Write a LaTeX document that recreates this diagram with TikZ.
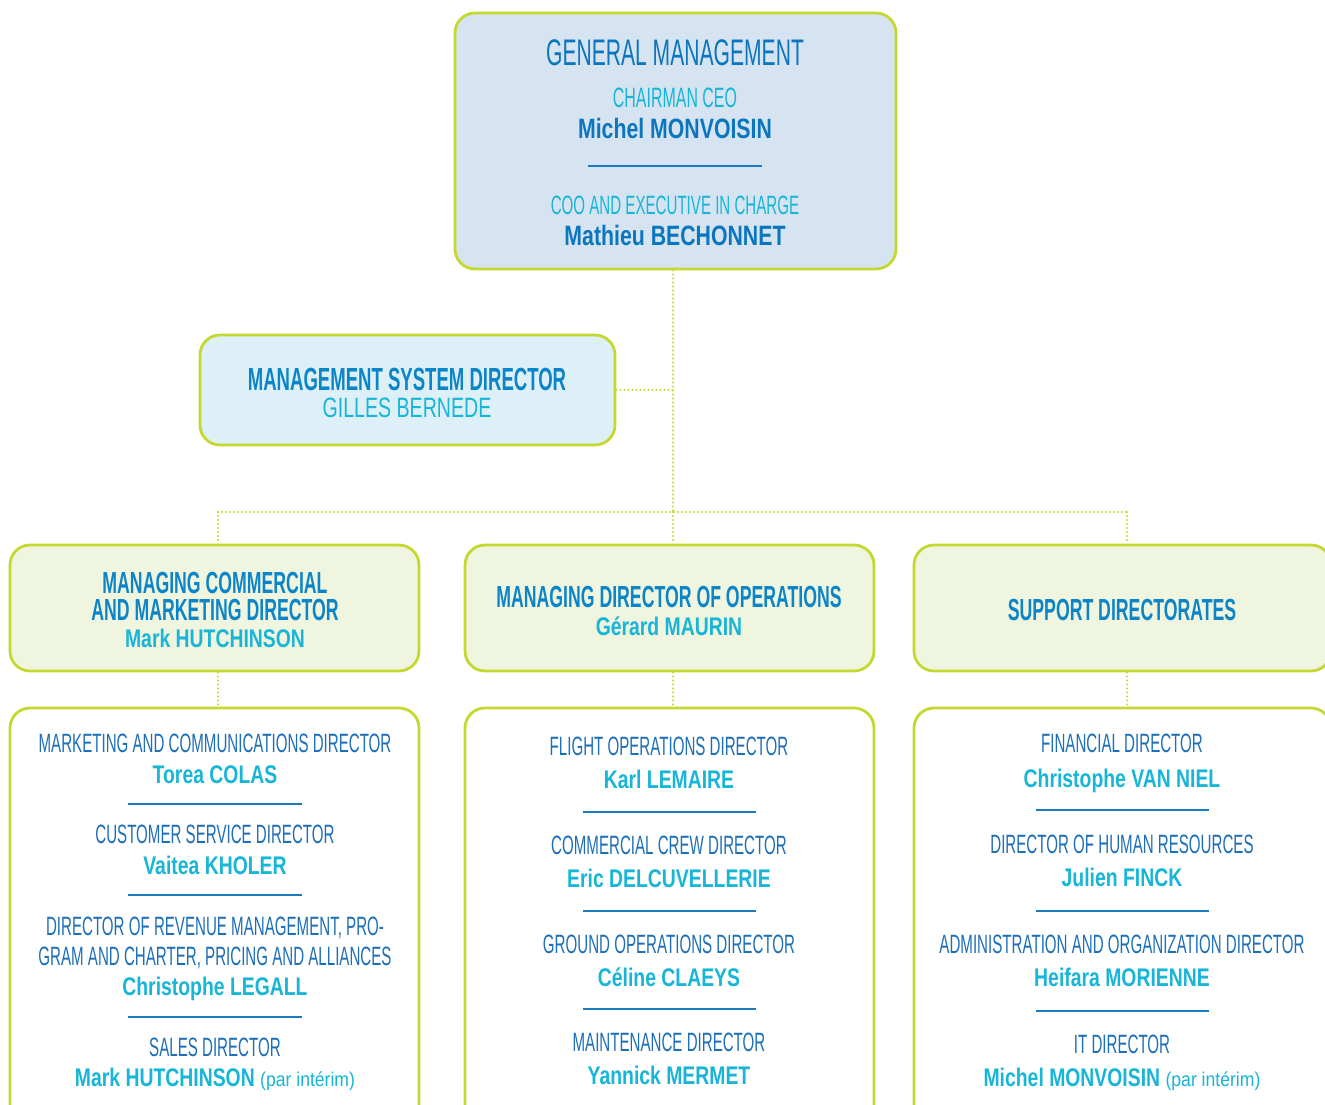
\documentclass[tikz,border=0pt]{standalone}
\usepackage{fontspec}
\setmainfont{Liberation Sans}
\newfontfamily\ttl[FakeStretch=0.57]{Liberation Sans}
\newfontfamily\hdr[FakeStretch=0.58]{Liberation Sans}
\newfontfamily\nmf[FakeStretch=0.76]{Liberation Sans}
\newfontfamily\nmr[FakeStretch=0.70]{Liberation Sans}
\newfontfamily\parf[FakeStretch=0.88]{Liberation Sans}
\definecolor{limec}{HTML}{C4D82F}
\definecolor{gmfill}{HTML}{D6E4F2}
\definecolor{msdfill}{HTML}{DDF0F7}
\definecolor{rowfill}{HTML}{F0F5E0}
\definecolor{darkb}{HTML}{0B76BE}
\definecolor{hdrb}{HTML}{0C85C8}
\definecolor{cyanc}{HTML}{17B5D7}
\definecolor{jobc}{HTML}{1D6FB8}
\definecolor{sepc}{HTML}{1B7CC4}
\tikzset{
  box/.style={draw=limec, line width=2.8pt, rounded corners=20pt, inner sep=0pt},
  txt/.style={anchor=base, inner sep=0pt, align=center},
  jt/.style={txt, text=jobc, font=\ttl\fontsize{26.5}{30}\selectfont},
  nm/.style={txt, text=cyanc, font=\nmf\bfseries\fontsize{25.5}{30}\selectfont},
  hd/.style={txt, text=hdrb, font=\hdr\bfseries\fontsize{30.5}{34}\selectfont},
  sepl/.style={draw=sepc, line width=1.3pt},
  conn/.style={draw=limec, line width=2.2pt, dash pattern=on 0pt off 4pt, line cap=round}
}
\newcommand{\pari}{{\parf\mdseries\fontsize{20}{24}\selectfont (par intérim)}}
\begin{document}
\begin{tikzpicture}[x=1pt,y=-1pt]
\clip (0,0) rectangle (1325,1104);
\fill[white] (0,0) rectangle (1325,1104);

% boxes
\node[box, fill=gmfill, minimum width=441pt, minimum height=256pt] (gm) at (675.5,141) {};
\node[box, fill=msdfill, minimum width=415pt, minimum height=110pt] (msd) at (407.5,390) {};
\node[box, fill=rowfill, minimum width=409pt, minimum height=126pt] (cm) at (214.5,608) {};
\node[box, fill=rowfill, minimum width=409pt, minimum height=126pt] (mo) at (669.5,608) {};
\node[box, fill=rowfill, minimum width=417pt, minimum height=126pt] (sd) at (1122.5,608) {};
\node[box, fill=white, minimum width=409pt, minimum height=422pt] (cl) at (214.5,919) {};
\node[box, fill=white, minimum width=409pt, minimum height=422pt] (ol) at (669.5,919) {};
\node[box, fill=white, minimum width=417pt, minimum height=422pt] (sl) at (1122.5,919) {};

% connectors
\coordinate (jm) at (673,512);
\coordinate (jl) at (218,512);
\coordinate (jr) at (1127,512);
\draw[conn] (jm |- gm.south) -- (jm);
\draw[conn] (msd.east) -- (msd.east -| jm);
\draw[conn] (jl) -- (jr);
\draw[conn] (jl) -- (jl |- cm.north);
\draw[conn] (jm) -- (jm |- mo.north);
\draw[conn] (jr) -- (jr |- sd.north);
\draw[conn] (jl |- cm.south) -- (jl |- cl.north);
\draw[conn] (jm |- mo.south) -- (jm |- ol.north);
\draw[conn] (jr |- sd.south) -- (jr |- sl.north);

% general management
\node[txt, text=darkb, font=\ttl\fontsize{37}{40}\selectfont] (gmt) at (675,65) {GENERAL MANAGEMENT};
\node[txt, text=cyanc, font=\ttl\fontsize{28}{32}\selectfont] (gmc) at (675,107) {CHAIRMAN CEO};
\node[txt, text=darkb, font=\nmf\bfseries\fontsize{28}{32}\selectfont] (gmn1) at (675,138) {Michel MONVOISIN};
\draw[sepl] (588,166) -- (762,166);
\node[txt, text=cyanc, font=\ttl\fontsize{26.5}{30}\selectfont] (gmo) at (675,214) {COO AND EXECUTIVE IN CHARGE};
\node[txt, text=darkb, font=\nmf\bfseries\fontsize{28}{32}\selectfont] (gmn2) at (675,245) {Mathieu BECHONNET};

% management system director
\node[hd, font=\hdr\bfseries\fontsize{32}{36}\selectfont] (msdt) at (407,390) {MANAGEMENT SYSTEM DIRECTOR};
\node[txt, text=cyanc, font=\nmr\fontsize{28}{32}\selectfont] (msdn) at (407,417) {GILLES BERNEDE};

% row 2
\node[hd, anchor=center, font=\hdr\bfseries\fontsize{30.5}{27}\selectfont] (cmt) at (215,596) {MANAGING COMMERCIAL\\AND MARKETING DIRECTOR};
\node[nm] (cmn) at (215,647) {Mark HUTCHINSON};
\node[hd] (mot) at (669,607) {MANAGING DIRECTOR OF OPERATIONS};
\node[nm] (mon) at (669,635) {Gérard MAURIN};
\node[hd] (sdt) at (1122,620) {SUPPORT DIRECTORATES};

% commercial list
\node[jt] (c1) at (215,752) {MARKETING AND COMMUNICATIONS DIRECTOR};
\node[nm] (c1n) at (215,783) {Torea COLAS};
\draw[sepl] (128,804) -- (302,804);
\node[jt] (c2) at (215,843) {CUSTOMER SERVICE DIRECTOR};
\node[nm] (c2n) at (215,874) {Vaitea KHOLER};
\draw[sepl] (128,895) -- (302,895);
\node[jt] (c3a) at (215,935) {DIRECTOR OF REVENUE MANAGEMENT, PRO-};
\node[jt] (c3b) at (215,965) {GRAM AND CHARTER, PRICING AND ALLIANCES};
\node[nm] (c3n) at (215,995) {Christophe LEGALL};
\draw[sepl] (128,1017) -- (302,1017);
\node[jt] (c4) at (215,1056) {SALES DIRECTOR};
\node[nm] (c4n) at (215,1086) {Mark HUTCHINSON \pari};

% operations list
\node[jt] (o1) at (669,755) {FLIGHT OPERATIONS DIRECTOR};
\node[nm] (o1n) at (669,788) {Karl LEMAIRE};
\draw[sepl] (583,812) -- (756,812);
\node[jt] (o2) at (669,854) {COMMERCIAL CREW DIRECTOR};
\node[nm] (o2n) at (669,887) {Eric DELCUVELLERIE};
\draw[sepl] (583,911) -- (756,911);
\node[jt] (o3) at (669,953) {GROUND OPERATIONS DIRECTOR};
\node[nm] (o3n) at (669,986) {Céline CLAEYS};
\draw[sepl] (583,1009) -- (756,1009);
\node[jt] (o4) at (669,1051) {MAINTENANCE DIRECTOR};
\node[nm] (o4n) at (669,1084) {Yannick MERMET};

% support list
\node[jt] (s1) at (1122,752) {FINANCIAL DIRECTOR};
\node[nm] (s1n) at (1122,787) {Christophe VAN NIEL};
\draw[sepl] (1036,810) -- (1209,810);
\node[jt] (s2) at (1122,853) {DIRECTOR OF HUMAN RESOURCES};
\node[nm] (s2n) at (1122,886) {Julien FINCK};
\draw[sepl] (1036,911) -- (1209,911);
\node[jt] (s3) at (1122,953) {ADMINISTRATION AND ORGANIZATION DIRECTOR};
\node[nm] (s3n) at (1122,986) {Heifara MORIENNE};
\draw[sepl] (1036,1011) -- (1209,1011);
\node[jt] (s4) at (1122,1053) {IT DIRECTOR};
\node[nm] (s4n) at (1122,1086) {Michel MONVOISIN \pari};
\end{tikzpicture}
\end{document}
